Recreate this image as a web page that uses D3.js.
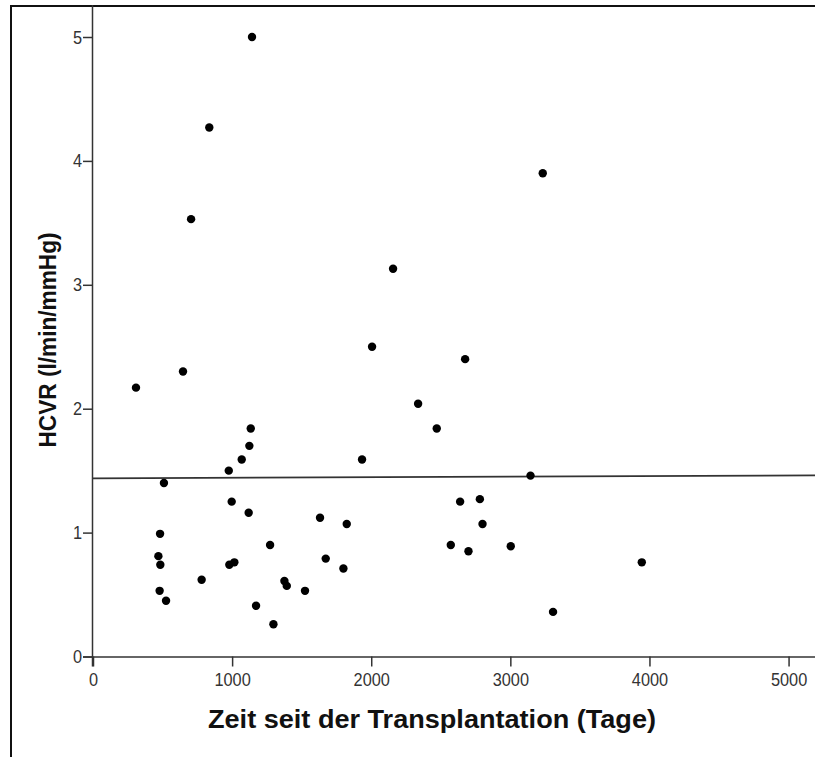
<!DOCTYPE html>
<html>
<head>
<meta charset="utf-8">
<script src="https://cdn.jsdelivr.net/npm/d3@7"></script>
<style>
  html, body { margin: 0; padding: 0; background: #fff; }
  svg { display: block; }
</style>
</head>
<body>
<svg id="chart" width="815" height="757"></svg>
<script>
// ---- data ----
const days = [309, 647, 705, 836, 1143, 1134, 1124, 1069, 976, 510, 997, 1119, 1632, 1824, 482,
  1273, 470, 484, 980, 1016, 1673, 781, 1376, 1393, 1524, 1800, 479, 525, 1172, 1297,
  3233, 2157, 2006, 2675, 2337, 2471, 1934, 3145, 2639, 2781, 2800, 2572, 2699, 3003, 3945, 3307];
const hcvr = [2.17, 2.30, 3.53, 4.27, 5.00, 1.84, 1.70, 1.59, 1.50, 1.40, 1.25, 1.16, 1.12, 1.07, 0.99,
  0.90, 0.81, 0.74, 0.74, 0.76, 0.79, 0.62, 0.61, 0.57, 0.53, 0.71, 0.53, 0.45, 0.41, 0.26,
  3.90, 3.13, 2.50, 2.40, 2.04, 1.84, 1.59, 1.46, 1.25, 1.27, 1.07, 0.90, 0.85, 0.89, 0.76, 0.36];
const fitIntercept = 1.438;
const fitSlope = 0.0000046;
const xTicks = [0, 1000, 2000, 3000, 4000, 5000];
const yTicks = [0, 1, 2, 3, 4, 5];
const xTitle = "Zeit seit der Transplantation (Tage)";
const yTitle = "HCVR (l/min/mmHg)";

// ---- layout ----
const svg = d3.select("#chart");
const mLeft = 93, mRight = 815, mTop = 5, mBottom = 656.5;
const x = d3.scaleLinear().domain([0, 5190]).range([mLeft, mRight]);
const y = d3.scaleLinear().domain([0, 5]).range([mBottom, 37]);

// frame
svg.append("path")
  .attr("d", `M11,757 V6 H815`)
  .attr("fill", "none").attr("stroke", "#111").attr("stroke-width", 2);

const font = "'Liberation Sans', Arial, sans-serif";
const squeeze = 0.86;

// x axis
const xAxis = d3.axisBottom(x).tickValues(xTicks).tickSize(10).tickSizeOuter(0).tickFormat(d3.format("d"));
const gx = svg.append("g").attr("transform", `translate(0,${mBottom})`).call(xAxis);
gx.select(".domain").attr("d", `M${mLeft - 10},0.5H${mRight}`).attr("stroke", "#333").attr("stroke-width", 1.5);
gx.selectAll(".tick line").attr("stroke", "#333").attr("stroke-width", 1.5);
gx.selectAll(".tick text").attr("font-family", font).attr("font-size", 19).attr("fill", "#333")
  .attr("dy", 0).attr("y", 29.5).attr("transform", `scale(${squeeze},1)`);

// y axis
const yAxis = d3.axisLeft(y).tickValues(yTicks).tickSize(10).tickSizeOuter(0).tickFormat(d3.format("d"));
const gy = svg.append("g").attr("transform", `translate(${mLeft},0)`).call(yAxis);
gy.select(".domain").attr("d", `M-0.5,${mTop}V${mBottom + 10}`).attr("stroke", "#333").attr("stroke-width", 1.5);
gy.selectAll(".tick line").attr("stroke", "#333").attr("stroke-width", 1.5);
gy.selectAll(".tick text").attr("font-family", font).attr("font-size", 19).attr("fill", "#333")
  .attr("x", -11 / squeeze).attr("transform", `scale(${squeeze},1)`);

// fit line
const xd = x.domain();
svg.append("line")
  .attr("x1", x(xd[0])).attr("y1", y(fitIntercept + fitSlope * xd[0]))
  .attr("x2", x(xd[1])).attr("y2", y(fitIntercept + fitSlope * xd[1]))
  .attr("stroke", "#333").attr("stroke-width", 1.6);

// points
svg.append("g").selectAll("circle")
  .data(days.map((d, i) => [d, hcvr[i]]))
  .join("circle")
  .attr("cx", d => x(d[0])).attr("cy", d => y(d[1]))
  .attr("r", 4.2).attr("fill", "#000");

// titles
svg.append("text")
  .attr("x", 432).attr("y", 728)
  .attr("text-anchor", "middle")
  .attr("font-family", font)
  .attr("font-weight", "bold").attr("font-size", 26).attr("fill", "#111")
  .attr("textLength", 448).attr("lengthAdjust", "spacingAndGlyphs")
  .text(xTitle);

svg.append("text")
  .attr("transform", `translate(56,340) rotate(-90)`)
  .attr("text-anchor", "middle")
  .attr("font-family", font)
  .attr("font-weight", "bold").attr("font-size", 24).attr("fill", "#111")
  .attr("textLength", 215).attr("lengthAdjust", "spacingAndGlyphs")
  .text(yTitle);
</script>
</body>
</html>
